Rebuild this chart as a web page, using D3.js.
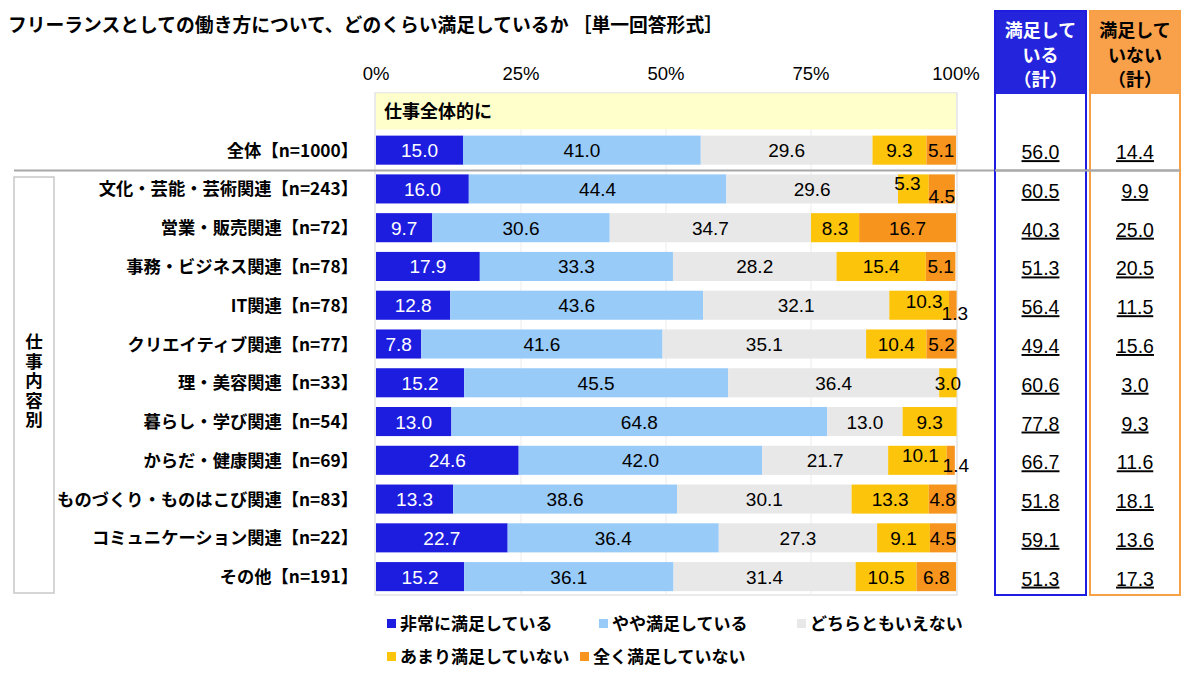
<!DOCTYPE html>
<html><head><meta charset="utf-8">
<script src="https://cdn.jsdelivr.net/npm/d3@7"></script>
<style>
body{margin:0;background:#fff;}
svg text{font-family:"Liberation Sans",Arial,sans-serif;}
.jp{font-family:"Noto Sans CJK JP","Noto Sans",sans-serif;font-weight:700;}
</style></head>
<body><svg id="c" width="1200" height="685"></svg>
<script>
const title = "フリーランスとしての働き方について、どのくらい満足しているか ［単一回答形式］";
const sectionLabel = "仕事全体的に";
const groupLabel = "仕事内容別";
const categories = ["全体【n=1000】","文化・芸能・芸術関連【n=243】","営業・販売関連【n=72】","事務・ビジネス関連【n=78】","IT関連【n=78】","クリエイティブ関連【n=77】","理・美容関連【n=33】","暮らし・学び関連【n=54】","からだ・健康関連【n=69】","ものづくり・ものはこび関連【n=83】","コミュニケーション関連【n=22】","その他【n=191】"];
const seriesNames = ["非常に満足している","やや満足している","どちらともいえない","あまり満足していない","全く満足していない"];
const verySatisfied = [15.0,16.0,9.7,17.9,12.8,7.8,15.2,13.0,24.6,13.3,22.7,15.2];
const somewhatSatisfied = [41.0,44.4,30.6,33.3,43.6,41.6,45.5,64.8,42.0,38.6,36.4,36.1];
const neither = [29.6,29.6,34.7,28.2,32.1,35.1,36.4,13.0,21.7,30.1,27.3,31.4];
const notVery = [9.3,5.3,8.3,15.4,10.3,10.4,3.0,9.3,10.1,13.3,9.1,10.5];
const notAtAll = [5.1,4.5,16.7,5.1,1.3,5.2,0,0,1.4,4.8,4.5,6.8];
const satisfiedTotal = ["56.0","60.5","40.3","51.3","56.4","49.4","60.6","77.8","66.7","51.8","59.1","51.3"];
const notSatisfiedTotal = ["14.4","9.9","25.0","20.5","11.5","15.6","3.0","9.3","11.6","18.1","13.6","17.3"];
const tickValues = [0,25,50,75,100];
const tickLabels = ["0%","25%","50%","75%","100%"];
const totalHeaders = [["満足して","いる","（計）"],["満足して","いない","（計）"]];

const colors = ["#1d1de0","#99cbf8","#e8e8e8","#fdc40c","#f7941d"];
const textColors = ["#fff","#000","#000","#000","#000"];
// label nudges for crowded segments: key "row-series" -> [dx, dy]
const nudges = {"1-3":[-6,-6],"1-4":[0,7],"4-3":[5,-4],"4-4":[2,8],"8-3":[3,-5],"8-4":[5,5]};

const svg = d3.select("#c");
const x = d3.scaleLinear().domain([0,100]).range([376,956]);
const rowKeys = ["__section"].concat(categories);
const y = d3.scaleBand().domain(rowKeys).range([92,596]).paddingInner(0.25).paddingOuter(0.125);

// title
svg.append("text").attr("class","jp").attr("x",8).attr("y",32).attr("font-size",18.8).text(title);

// tick labels
svg.selectAll(".tick").data(tickValues).join("text")
  .attr("x",d=>x(d)).attr("y",80).attr("text-anchor","middle").attr("font-size",18.5)
  .text((d,i)=>tickLabels[i]);

// plot frame & grid
const plotTop = 93, plotBottom = 595;
svg.append("rect").attr("x",x(0)-1).attr("y",plotTop).attr("width",x(100)-x(0)+2).attr("height",plotBottom-plotTop)
  .attr("fill","none").attr("stroke","#e3e3e3").attr("stroke-width",1.5);
svg.selectAll(".grid").data([25,50,75]).join("line")
  .attr("x1",d=>x(d)).attr("x2",d=>x(d)).attr("y1",plotTop).attr("y2",plotBottom).attr("stroke","#ececec");

// section band
const sc = y("__section")+y.bandwidth()/2;
svg.append("rect").attr("x",x(0)).attr("y",sc-18).attr("width",x(100)-x(0)).attr("height",36).attr("fill","#ffffcc");
svg.append("text").attr("class","jp").attr("x",x(0)+8).attr("y",sc+7).attr("font-size",18).text(sectionLabel);

// stacked data
const seriesArrays = [verySatisfied,somewhatSatisfied,neither,notVery,notAtAll];
const table = categories.map((c,i)=>{const o={cat:c,idx:i}; seriesNames.forEach((s,j)=>o[s]=seriesArrays[j][i]); return o;});
const stack = d3.stack().keys(seriesNames)(table);

stack.forEach((layer,j)=>{
  const g = svg.append("g");
  g.selectAll("rect").data(layer.filter(d=>d[1]-d[0]>0)).join("rect")
    .attr("x",d=>x(d[0])).attr("y",d=>y(d.data.cat)).attr("width",d=>x(d[1])-x(d[0])).attr("height",y.bandwidth())
    .attr("fill",colors[j]);
  g.selectAll("text").data(layer.filter(d=>d[1]-d[0]>0)).join("text")
    .attr("x",d=>(x(d[0])+x(d[1]))/2 + ((nudges[d.data.idx+"-"+j]||[0,0])[0]))
    .attr("y",d=>y(d.data.cat)+y.bandwidth()/2+7 + ((nudges[d.data.idx+"-"+j]||[0,0])[1]))
    .attr("text-anchor","middle").attr("font-size",19).attr("fill",textColors[j])
    .text(d=>(d[1]-d[0]).toFixed(1));
});

// category labels
svg.selectAll(".cat").data(categories).join("text").attr("class","jp")
  .attr("x",358).attr("y",d=>y(d)+y.bandwidth()/2+6.5).attr("text-anchor","end").attr("font-size",17.3)
  .text(d=>d);

// separator
const sepY = (y(categories[0])+y.bandwidth()+y(categories[1]))/2 + 1;
svg.append("line").attr("x1",14).attr("x2",1180).attr("y1",sepY).attr("y2",sepY).attr("stroke","#a8a8a8").attr("stroke-width",2);

// group bracket box
svg.append("rect").attr("x",14).attr("y",177).attr("width",40).attr("height",416).attr("fill","none").attr("stroke","#c8c8c8").attr("stroke-width",1.5);
svg.append("text").attr("class","jp").attr("x",34).attr("y",333)
  .attr("writing-mode","vertical-rl").attr("letter-spacing",2).attr("font-size",17.5).text(groupLabel);

// total columns
const cols = [{x:995,w:91,color:"#1d1de0",head:"#2424dc",tc:"#fff",vals:satisfiedTotal},
              {x:1090,w:90,color:"#f7a045",head:"#f8a04a",tc:"#000",vals:notSatisfiedTotal}];
cols.forEach((c,k)=>{
  svg.append("rect").attr("x",c.x).attr("y",11).attr("width",c.w).attr("height",83).attr("fill",c.head);
  svg.append("rect").attr("x",c.x).attr("y",11).attr("width",c.w).attr("height",584).attr("fill","none").attr("stroke",c.color).attr("stroke-width",2);
  svg.selectAll(".h"+k).data(totalHeaders[k]).join("text").attr("class","jp")
    .attr("x",c.x+c.w/2).attr("y",(d,i)=>37+i*24.5).attr("text-anchor","middle").attr("font-size",18).attr("fill",c.tc).text(d=>d);
  svg.selectAll(".v"+k).data(c.vals).join("text")
    .attr("x",c.x+c.w/2).attr("y",(d,i)=>y(categories[i])+y.bandwidth()/2+9).attr("text-anchor","middle")
    .attr("font-size",19.5).attr("text-decoration","underline").text(d=>d);
});
svg.append("line").attr("x1",995).attr("x2",1180).attr("y1",sepY).attr("y2",sepY).attr("stroke","#a8a8a8").attr("stroke-width",2);

// legend
const legendPos = [[387,623],[599,623],[797,623],[387,656],[580,656]];
seriesNames.forEach((s,j)=>{
  const [lx,ly] = legendPos[j];
  svg.append("rect").attr("x",lx).attr("y",ly-4).attr("width",9).attr("height",9).attr("fill",colors[j]);
  svg.append("text").attr("class","jp").attr("x",lx+13).attr("y",ly+7).attr("font-size",17).text(s);
});
</script></body></html>
